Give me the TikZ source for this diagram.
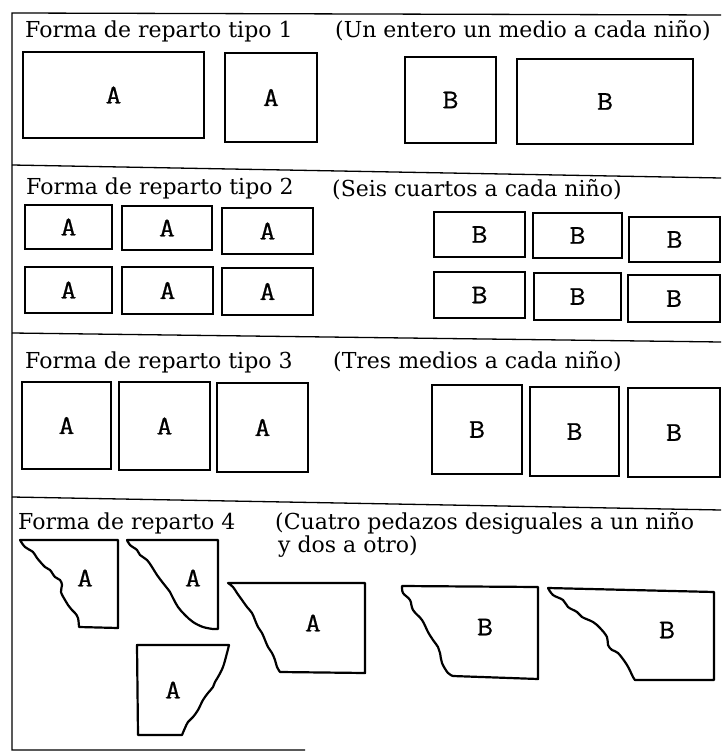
\documentclass[tikz,border=0pt]{standalone}
\usepackage{fontspec}
\setmainfont{DejaVu Serif}
\newfontfamily\labfont{Latin Modern Mono}[FakeBold=0.7,FakeStretch=1.15]
\newcommand\pbox[6]{%
  \pgfmathsetmacro\pbcx{(#2+#4)/2}\pgfmathsetmacro\pbcy{(#3+#5)/2}%
  \pgfmathsetmacro\pbww{#4-#2}\pgfmathsetmacro\pbhh{#5-#3}%
  \node[piece, minimum width=\pbww pt, minimum height=\pbhh pt] (#1) at (\pbcx,\pbcy) {#6};}
\tikzset{
  frame/.style={line width=1.3pt},
  piece/.style={draw, rectangle, line width=2.2pt, inner sep=0pt, font=\labfont\fontsize{27}{31}\selectfont},
  cut/.style={line width=2.2pt, line join=round},
  lab/.style={inner sep=0pt, font=\labfont\fontsize{27}{31}\selectfont},
  ttl/.style={inner sep=0pt, anchor=base west, font=\fontsize{22}{26}\selectfont}
}
\begin{document}
\begin{tikzpicture}[x=1pt,y=-1pt]
\useasboundingbox (0,0) rectangle (721,754);
% frame
\coordinate (tl) at (12,13); \coordinate (tr) at (721,15);
\coordinate (bl) at (12,750); \coordinate (br) at (305,750);
\coordinate (s1l) at (12,165); \coordinate (s1r) at (721,178);
\coordinate (s2l) at (12,333); \coordinate (s2r) at (721,342);
\coordinate (s3l) at (12,497); \coordinate (s3r) at (721,510);
\draw[frame] (tr) -- (tl) -- (bl) -- (br);
\draw[frame] (s1l) -- (s1r);
\draw[frame] (s2l) -- (s2r);
\draw[frame] (s3l) -- (s3r);
% section 1
\node[ttl] (t1) at (25,38) {Forma de reparto tipo 1};
\node[ttl] (u1) at (335,38) {(Un entero un medio a cada niño)};
\pbox{a11}{23}{52}{204}{138}{A}
\pbox{a12}{225}{53}{317}{142}{A}
\pbox{b11}{405}{57}{496}{143}{B}
\pbox{b12}{517}{59}{693}{144}{B}
% section 2
\node[ttl] (t2) at (26,194) {Forma de reparto tipo 2};
\node[ttl] (u2) at (332,196) {(Seis cuartos a cada niño)};
\pbox{a21}{25}{205}{112}{249}{A}
\pbox{a22}{122}{206}{212}{250}{A}
\pbox{a23}{222}{208}{313}{254}{A}
\pbox{a24}{25}{267}{112}{313}{A}
\pbox{a25}{122}{267}{213}{314}{A}
\pbox{a26}{222}{268}{313}{315}{A}
\pbox{b21}{434}{212}{525}{257}{B}
\pbox{b22}{533}{213}{622}{258}{B}
\pbox{b23}{629}{217}{720}{262}{B}
\pbox{b24}{434}{272}{525}{318}{B}
\pbox{b25}{534}{273}{621}{320}{B}
\pbox{b26}{628}{275}{720}{322}{B}
% section 3
\node[ttl] (t3) at (25,368) {Forma de reparto tipo 3};
\node[ttl] (u3) at (333,368) {(Tres medios a cada niño)};
\pbox{a31}{22}{382}{111}{469}{A}
\pbox{a32}{119}{382}{210}{470}{A}
\pbox{a33}{217}{383}{308}{472}{A}
\pbox{b31}{432}{385}{522}{474}{B}
\pbox{b32}{530}{387}{619}{476}{B}
\pbox{b33}{628}{388}{720}{477}{B}
% section 4
\node[ttl] (t4) at (18,529) {Forma de reparto 4};
\node[ttl] (u4) at (275,529) {(Cuatro pedazos desiguales a un niño};
\node[ttl] (u5) at (278,552) {y dos a otro)};
% irregular pieces
\draw[cut] plot[smooth, tension=0.6] coordinates {(79,627) (78,618) (75,613) (72,610) (68,605) (65,600) (61,592) (62,585) (60,580) (55,577) (50,570) (45,567) (37,558) (33,552) (25,547) (20,540)} -- (118,540) -- (118,628) -- cycle;
\node[lab] (pa1) at (85,578) {A};
\draw[cut] plot[smooth, tension=0.6] coordinates {(213,629) (203,627) (193,622) (185,615) (178,607) (173,598) (170,592) (163,583) (157,575) (152,567) (147,560) (140,555) (137,550) (130,545) (127,540)} -- (218,540) -- (218,629) -- cycle;
\node[lab] (pa2) at (193,578) {A};
\draw[cut] plot[smooth, tension=0.6] coordinates {(182,735) (185,728) (188,722) (193,717) (198,710) (203,700) (208,693) (213,687) (215,682) (218,677) (223,667) (227,653) (229,645)} -- (137,645) -- (138,735) -- cycle;
\node[lab] (pa3) at (173,690) {A};
\draw[cut] plot[smooth, tension=0.6] coordinates {(280,672) (277,667) (275,660) (272,653) (268,647) (265,640) (262,633) (258,627) (255,620) (252,613) (247,607) (242,600) (237,593) (233,587) (228,583)} -- (365,583) -- (365,673) -- cycle;
\node[lab] (pa4) at (313,623) {A};
\draw[cut] plot[smooth, tension=0.6] coordinates {(453,676) (448,673) (442,663) (440,653) (438,647) (433,640) (428,632) (422,620) (413,610) (410,600) (403,593) (402,586)} -- (538,587) -- (538,679) -- cycle;
\node[lab] (pb1) at (485,627) {B};
\draw[cut] plot[smooth, tension=0.6] coordinates {(635,680) (633,677) (627,665) (618,653) (612,650) (608,645) (607,637) (600,628) (593,622) (582,617) (577,612) (568,607) (563,600) (553,595) (548,588)} -- (714,592) -- (714,680) -- cycle;
\node[lab] (pb2) at (667,630) {B};
\end{tikzpicture}
\end{document}
